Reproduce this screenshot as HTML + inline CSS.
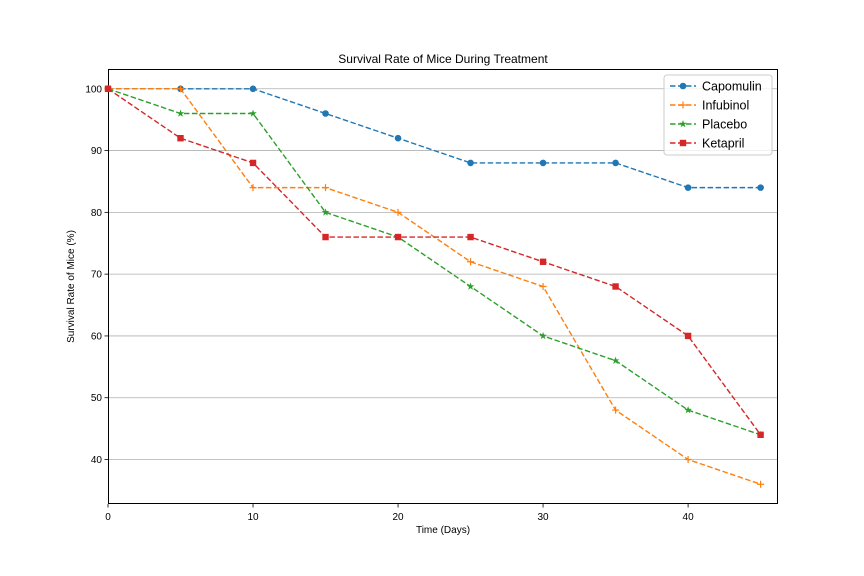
<!DOCTYPE html>
<html><head><meta charset="utf-8">
<style>
body{margin:0;background:#fff;}
svg{display:block;font-family:"Liberation Sans","DejaVu Sans",sans-serif;}
</style></head>
<body>
<svg id="chart" width="864" height="576" viewBox="0 0 864 576"></svg>
<script>
const days = [0,5,10,15,20,25,30,35,40,45];
const seriesNames = ["Capomulin","Infubinol","Placebo","Ketapril"];
const capomulin = [100,100,100,96,92,88,88,88,84,84];
const infubinol = [100,100,84,84,80,72,68,48,40,36];
const placebo = [100,96,96,80,76,68,60,56,48,44];
const ketapril = [100,92,88,76,76,76,72,68,60,44];
const xTicks = [0,10,20,30,40];
const yTicks = [40,50,60,70,80,90,100];

const NS="http://www.w3.org/2000/svg";
const svg=document.getElementById('chart');
const L=108,R=778,T=69,B=504;
const xMin=0,xMax=46.2,yMin=32.8,yMax=103.2;
const xs=v=>L+(v-xMin)/(xMax-xMin)*(R-L);
const ys=v=>B-(v-yMin)/(yMax-yMin)*(B-T);
function mk(tag,attrs,parent){const e=document.createElementNS(NS,tag);for(const k in attrs)e.setAttribute(k,attrs[k]);(parent||svg).appendChild(e);return e;}

yTicks.forEach(t=>{
  const g=mk('line',{x1:L,x2:R,y1:ys(t),y2:ys(t),stroke:'#b0b0b0','stroke-width':0.8});
  
  
});
const fr=mk('rect',{x:L+0.5,y:T+0.5,width:R-L-1,height:B-T-1,fill:'none',stroke:'#000','stroke-width':1});


xTicks.forEach(t=>{
  mk('line',{x1:xs(t),x2:xs(t),y1:B,y2:B+3.5,stroke:'#000','stroke-width':0.8});
  const tx=mk('text',{x:xs(t),y:B+16,'text-anchor':'middle','font-size':10});
  tx.textContent=t;
  
  
});
yTicks.forEach(t=>{
  mk('line',{x1:L-3.5,x2:L,y1:ys(t),y2:ys(t),stroke:'#000','stroke-width':0.8});
  const tx=mk('text',{x:L-6,y:ys(t)+3.5,'text-anchor':'end','font-size':10});
  tx.textContent=t;
  
  
});
const title=mk('text',{x:(L+R)/2,y:63,'text-anchor':'middle','font-size':12});
title.textContent='Survival Rate of Mice During Treatment';


const xl=mk('text',{x:(L+R)/2,y:533,'text-anchor':'middle','font-size':10});
xl.textContent='Time (Days)';


const yl=mk('text',{x:0,y:0,'text-anchor':'middle','font-size':10,transform:`translate(74,${(T+B)/2}) rotate(-90)`});
yl.textContent='Survival Rate of Mice (%)';



const colors=['#1f77b4','#ff7f0e','#2ca02c','#d62728'];
const markers=['circle','plus','star','square'];
const data=[capomulin,infubinol,placebo,ketapril];
function marker(type,x,y,c,parent){
  if(type==='circle')return mk('circle',{cx:x,cy:y,r:3.3,fill:c},parent);
  if(type==='square')return mk('rect',{x:x-3.2,y:y-3.2,width:6.4,height:6.4,fill:c},parent);
  if(type==='plus')return mk('path',{d:`M${x-3.5},${y}H${x+3.5}M${x},${y-3.5}V${y+3.5}`,stroke:c,'stroke-width':1.2,fill:'none'},parent);
  let p=[];for(let i=0;i<10;i++){const r=i%2?1.6:4,a=-Math.PI/2+i*Math.PI/5;p.push((x+r*Math.cos(a)).toFixed(2)+','+(y+r*Math.sin(a)).toFixed(2));}
  return mk('polygon',{points:p.join(' '),fill:c},parent);
}
data.forEach((vals,si)=>{
  const g=mk('g',{});
  
  
  const pl=mk('polyline',{points:vals.map((v,i)=>xs(days[i])+','+ys(v)).join(' '),fill:'none',stroke:colors[si],'stroke-width':1.4,'stroke-dasharray':'5.5,2.5'},g);
  
  
  vals.forEach((v,i)=>{
    const m=marker(markers[si],xs(days[i]),ys(v),colors[si],g);
    
    
  });
});
const lg=mk('g',{});


mk('rect',{x:664,y:75,width:108,height:80,rx:3,fill:'#fff','fill-opacity':0.8,stroke:'#ccc','stroke-width':1},lg);
seriesNames.forEach((n,i)=>{
  const y=86+i*19;
  const e=mk('g',{},lg);
  
  
  mk('line',{x1:670,x2:696,y1:y,y2:y,stroke:colors[i],'stroke-width':1.4,'stroke-dasharray':'5.5,2.5'},e);
  marker(markers[i],683,y,colors[i],e);
  const t=mk('text',{x:702,y:y+4.5,'font-size':12.5},e);
  t.textContent=n;
});
</script>
</body></html>
